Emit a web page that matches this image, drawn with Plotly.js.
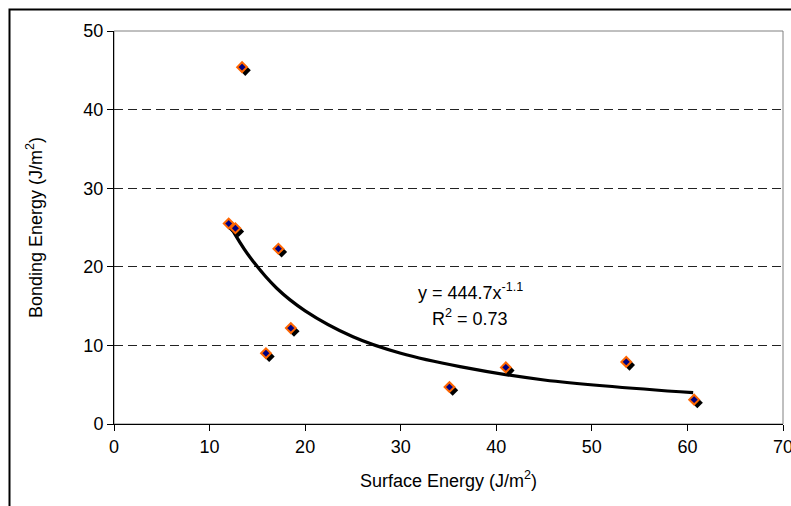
<!DOCTYPE html>
<html>
<head>
<meta charset="utf-8">
<script src="https://cdn.plot.ly/plotly-3.0.1.min.js"></script>
<style>html,body{margin:0;padding:0;background:#fff;}#chart{width:791px;height:506px;}</style>
</head>
<body>
<div id="chart"></div>
<script>
// Measured points
const surfaceEnergy = [13.4, 12.0, 12.7, 17.2, 18.5, 15.9, 35.1, 41.0, 53.6, 60.7];
const bondingEnergy = [45.4, 25.5, 24.9, 22.3, 12.2, 9.0, 4.7, 7.2, 7.9, 3.1];

// Trend line, points
const trendX = [12.1, 14.0, 17.0, 20.0, 25.0, 30.0, 36.2, 45.0, 60.6];
const trendY = [25.3, 21.6, 17.3, 14.4, 11.1, 9.0, 7.3, 5.6, 3.98];

const xTicks = [0, 10, 20, 30, 40, 50, 60, 70];
const yTicks = [0, 10, 20, 30, 40, 50];

const FONT = 'Liberation Sans, Arial, sans-serif';
const FS = 18;
const W = 791, H = 506;
const L = 114, R = 8, T = 31, B = 82;
const pw = W - L - R, ph = H - T - B;
const XR = [0, 70], YR = [0, 50];
const shadowPx = 3.2;
const dx = shadowPx * (XR[1] - XR[0]) / pw;
const dy = shadowPx * (YR[1] - YR[0]) / ph;

const traces = [
  {
    x: trendX, y: trendY, type: 'scatter', mode: 'lines', hoverinfo: 'skip',
    line: {color: '#000000', width: 3.2, shape: 'spline', smoothing: 1}
  },
  { // shadow
    x: surfaceEnergy, y: bondingEnergy, xaxis: 'x2', yaxis: 'y2',
    type: 'scatter', mode: 'markers', hoverinfo: 'skip',
    marker: {symbol: 'diamond', size: 8.5, color: '#000000', line: {width: 0}}
  },
  {
    x: surfaceEnergy, y: bondingEnergy, xaxis: 'x3', yaxis: 'y3',
    type: 'scatter', mode: 'markers',
    marker: {symbol: 'diamond', size: 7.5, color: '#000080', line: {color: '#FF6600', width: 2}}
  }
];

const hidden = {visible: false, showgrid: false, zeroline: false, domain: [0, 1]};

const layout = {
  width: W, height: H,
  margin: {l: L, r: R, t: T, b: B},
  paper_bgcolor: '#ffffff', plot_bgcolor: '#ffffff',
  showlegend: false,
  font: {family: FONT, size: FS, color: '#000000'},
  xaxis: {
    range: XR,
    tickvals: xTicks, ticktext: xTicks.map(String),
    ticks: 'outside', ticklen: 6, tickcolor: '#000', tickwidth: 1,
    showline: true, linecolor: '#000', linewidth: 1,
    showgrid: false, zeroline: false, ticklabeloverflow: 'allow',
    tickfont: {family: FONT, size: FS, color: '#000'},
    title: {text: 'Surface Energy (J/m<sup>2</sup>)', font: {family: FONT, size: FS, color: '#000'}, standoff: 18}
  },
  yaxis: {
    range: YR,
    tickvals: yTicks, ticktext: yTicks.map(String),
    ticks: 'outside', ticklen: 6, tickcolor: '#000', tickwidth: 1,
    showline: true, linecolor: '#000', linewidth: 1,
    showgrid: true, gridcolor: '#222', gridwidth: 1, griddash: '9px,5px',
    zeroline: false, ticklabeloverflow: 'allow',
    tickfont: {family: FONT, size: FS, color: '#000'},
    title: {text: 'Bonding Energy (J/m<sup>2</sup>)', font: {family: FONT, size: FS, color: '#000'}, standoff: 36}
  },
  xaxis2: Object.assign({}, hidden, {range: [XR[0] - dx, XR[1] - dx], overlaying: 'x', anchor: 'y2'}),
  yaxis2: Object.assign({}, hidden, {range: [YR[0] + dy, YR[1] + dy], overlaying: 'y', anchor: 'x2'}),
  xaxis3: Object.assign({}, hidden, {range: XR, overlaying: 'x', anchor: 'y3'}),
  yaxis3: Object.assign({}, hidden, {range: YR, overlaying: 'y', anchor: 'x3'}),
  shapes: [
    {type: 'rect', xref: 'paper', yref: 'paper', x0: 0, x1: 1, y0: 0, y1: 1,
     line: {color: '#808080', width: 1}, fillcolor: 'rgba(0,0,0,0)', layer: 'below'},
    {type: 'rect', xref: 'paper', yref: 'paper',
     x0: (9.5 - L) / pw, x1: 1.2, y0: -0.5, y1: (H - B - 9.5) / ph,
     line: {color: '#000', width: 2}, fillcolor: 'rgba(0,0,0,0)'}
  ],
  annotations: [
    {xref: 'x', yref: 'y', x: 37.25, y: 16.8, text: 'y = 444.7x<sup>-1.1</sup>', showarrow: false,
     font: {family: FONT, size: FS, color: '#000'}, xanchor: 'center', yanchor: 'middle'},
    {xref: 'x', yref: 'y', x: 37.25, y: 13.5, text: 'R<sup>2</sup> = 0.73', showarrow: false,
     font: {family: FONT, size: FS, color: '#000'}, xanchor: 'center', yanchor: 'middle'}
  ]
};

Plotly.newPlot('chart', traces, layout, {displayModeBar: false, staticPlot: true});
</script>
</body>
</html>
